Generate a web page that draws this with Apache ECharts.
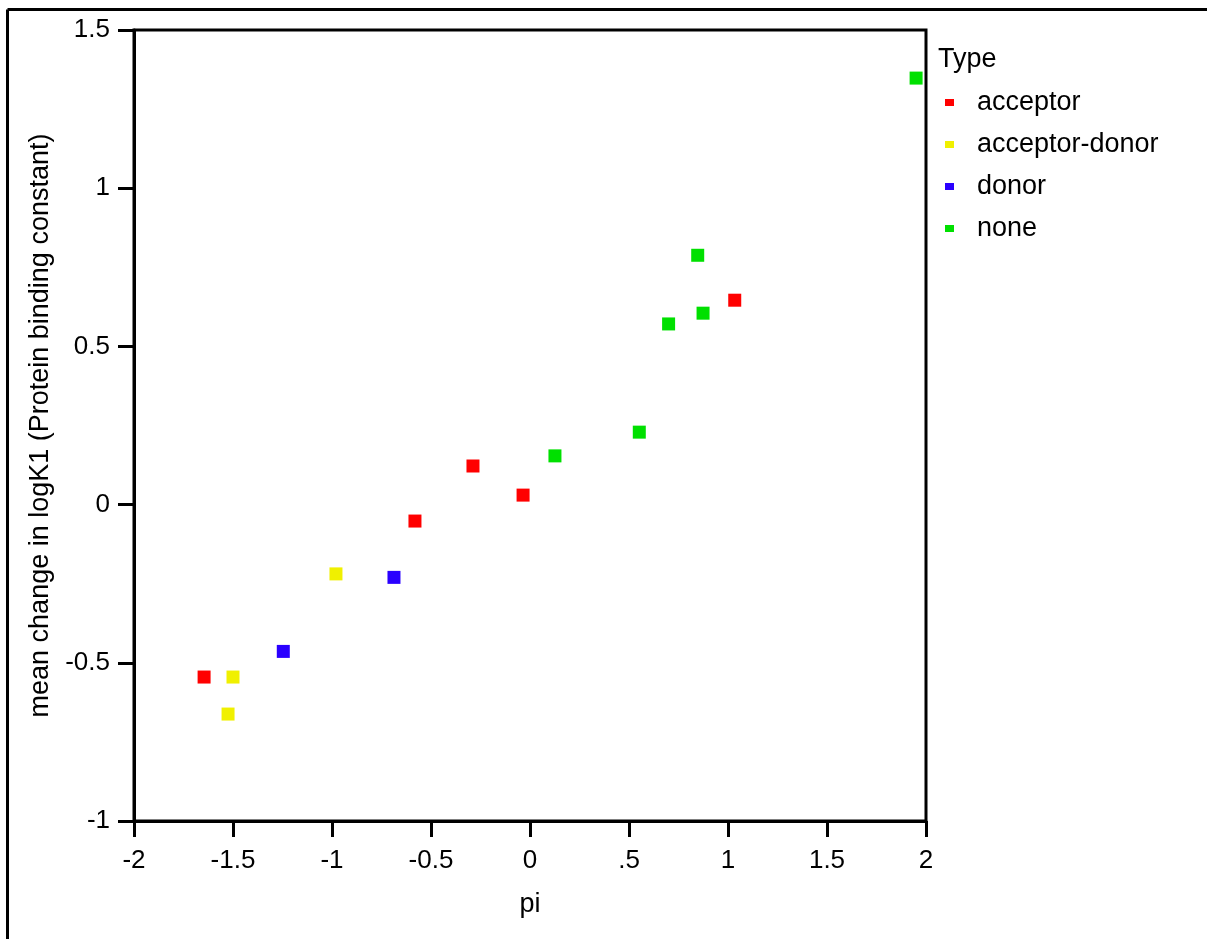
<!DOCTYPE html>
<html>
<head>
<meta charset="utf-8">
<script src="https://cdn.jsdelivr.net/npm/echarts@6/dist/echarts.min.js"></script>
<style>
  html, body { margin: 0; padding: 0; background: #fff; }
  #chart { width: 1207px; height: 939px; }
</style>
</head>
<body>
<div id="chart"></div>
<script>
// values: [pi, mean change in logK1]
var acceptor = [[-1.646, -0.545], [-0.581, -0.052], [-0.288, 0.122], [-0.035, 0.030], [1.034, 0.646]];
var acceptorDonor = [[-1.525, -0.662], [-1.500, -0.545], [-0.980, -0.219]];
var donor = [[-1.246, -0.464], [-0.687, -0.230]];
var none = [[0.126, 0.154], [0.552, 0.229], [0.700, 0.571], [0.847, 0.788], [0.874, 0.605], [1.950, 1.348]];

var typeNames = ['acceptor', 'acceptor-donor', 'donor', 'none'];
var typeColors = ['#ff0000', '#f0f000', '#2a00ff', '#00e000'];
var typeData = [acceptor, acceptorDonor, donor, none];

var font = 'Liberation Sans, Arial, sans-serif';
var tickFs = 26;
var fs = 27;

var chart = echarts.init(document.getElementById('chart'));

var series = typeNames.map(function (name, i) {
  return {
    name: name,
    type: 'scatter',
    data: typeData[i],
    symbol: 'rect',
    symbolSize: 13,
    itemStyle: { color: typeColors[i], opacity: 1 }
  };
});

var option = {
  animation: false,
  backgroundColor: '#fff',
  textStyle: { fontFamily: font },
  grid: { left: 134, right: 281, top: 30, bottom: 118, show: true, borderColor: '#000', borderWidth: 3 },
  xAxis: {
    type: 'value',
    min: -2, max: 2, interval: 0.5,
    name: 'pi',
    nameLocation: 'middle',
    nameGap: 70,
    nameTextStyle: { color: '#000', fontSize: fs, fontFamily: font },
    axisLine: { onZero: false, lineStyle: { color: '#000', width: 3 } },
    axisTick: { length: 16, lineStyle: { color: '#000', width: 3 } },
    axisLabel: {
      color: '#000', fontSize: tickFs, margin: 27, fontFamily: font,
      formatter: function (v) { return v === 0.5 ? '.5' : String(v); }
    },
    splitLine: { show: false }
  },
  yAxis: {
    type: 'value',
    min: -1, max: 1.5, interval: 0.5,
    name: 'mean change in logK1 (Protein binding constant)',
    nameLocation: 'middle',
    nameGap: 77,
    nameTextStyle: { color: '#000', fontSize: fs, fontFamily: font },
    axisLine: { onZero: false, lineStyle: { color: '#000', width: 3 } },
    axisTick: { length: 16, lineStyle: { color: '#000', width: 3 } },
    axisLabel: { color: '#000', fontSize: tickFs, margin: 24, fontFamily: font },
    splitLine: { show: false }
  },
  legend: {
    orient: 'vertical',
    left: 940,
    top: 84,
    itemWidth: 9,
    itemHeight: 7,
    itemGap: 15,
    icon: 'rect',
    data: typeNames,
    textStyle: { color: '#000', fontSize: fs, fontFamily: font, padding: [0, 0, 0, 18] }
  },
  graphic: [
    { type: 'text', left: 938, top: 46, style: { text: 'Type', fontSize: fs, fontFamily: font, fill: '#000' } },
    { type: 'line', shape: { x1: 7.5, y1: 9.5, x2: 1207, y2: 9.5 }, style: { stroke: '#000', lineWidth: 3 } },
    { type: 'line', shape: { x1: 7.5, y1: 9.5, x2: 7.5, y2: 939 }, style: { stroke: '#000', lineWidth: 3 } }
  ],
  series: series
};

chart.setOption(option);
</script>
</body>
</html>
